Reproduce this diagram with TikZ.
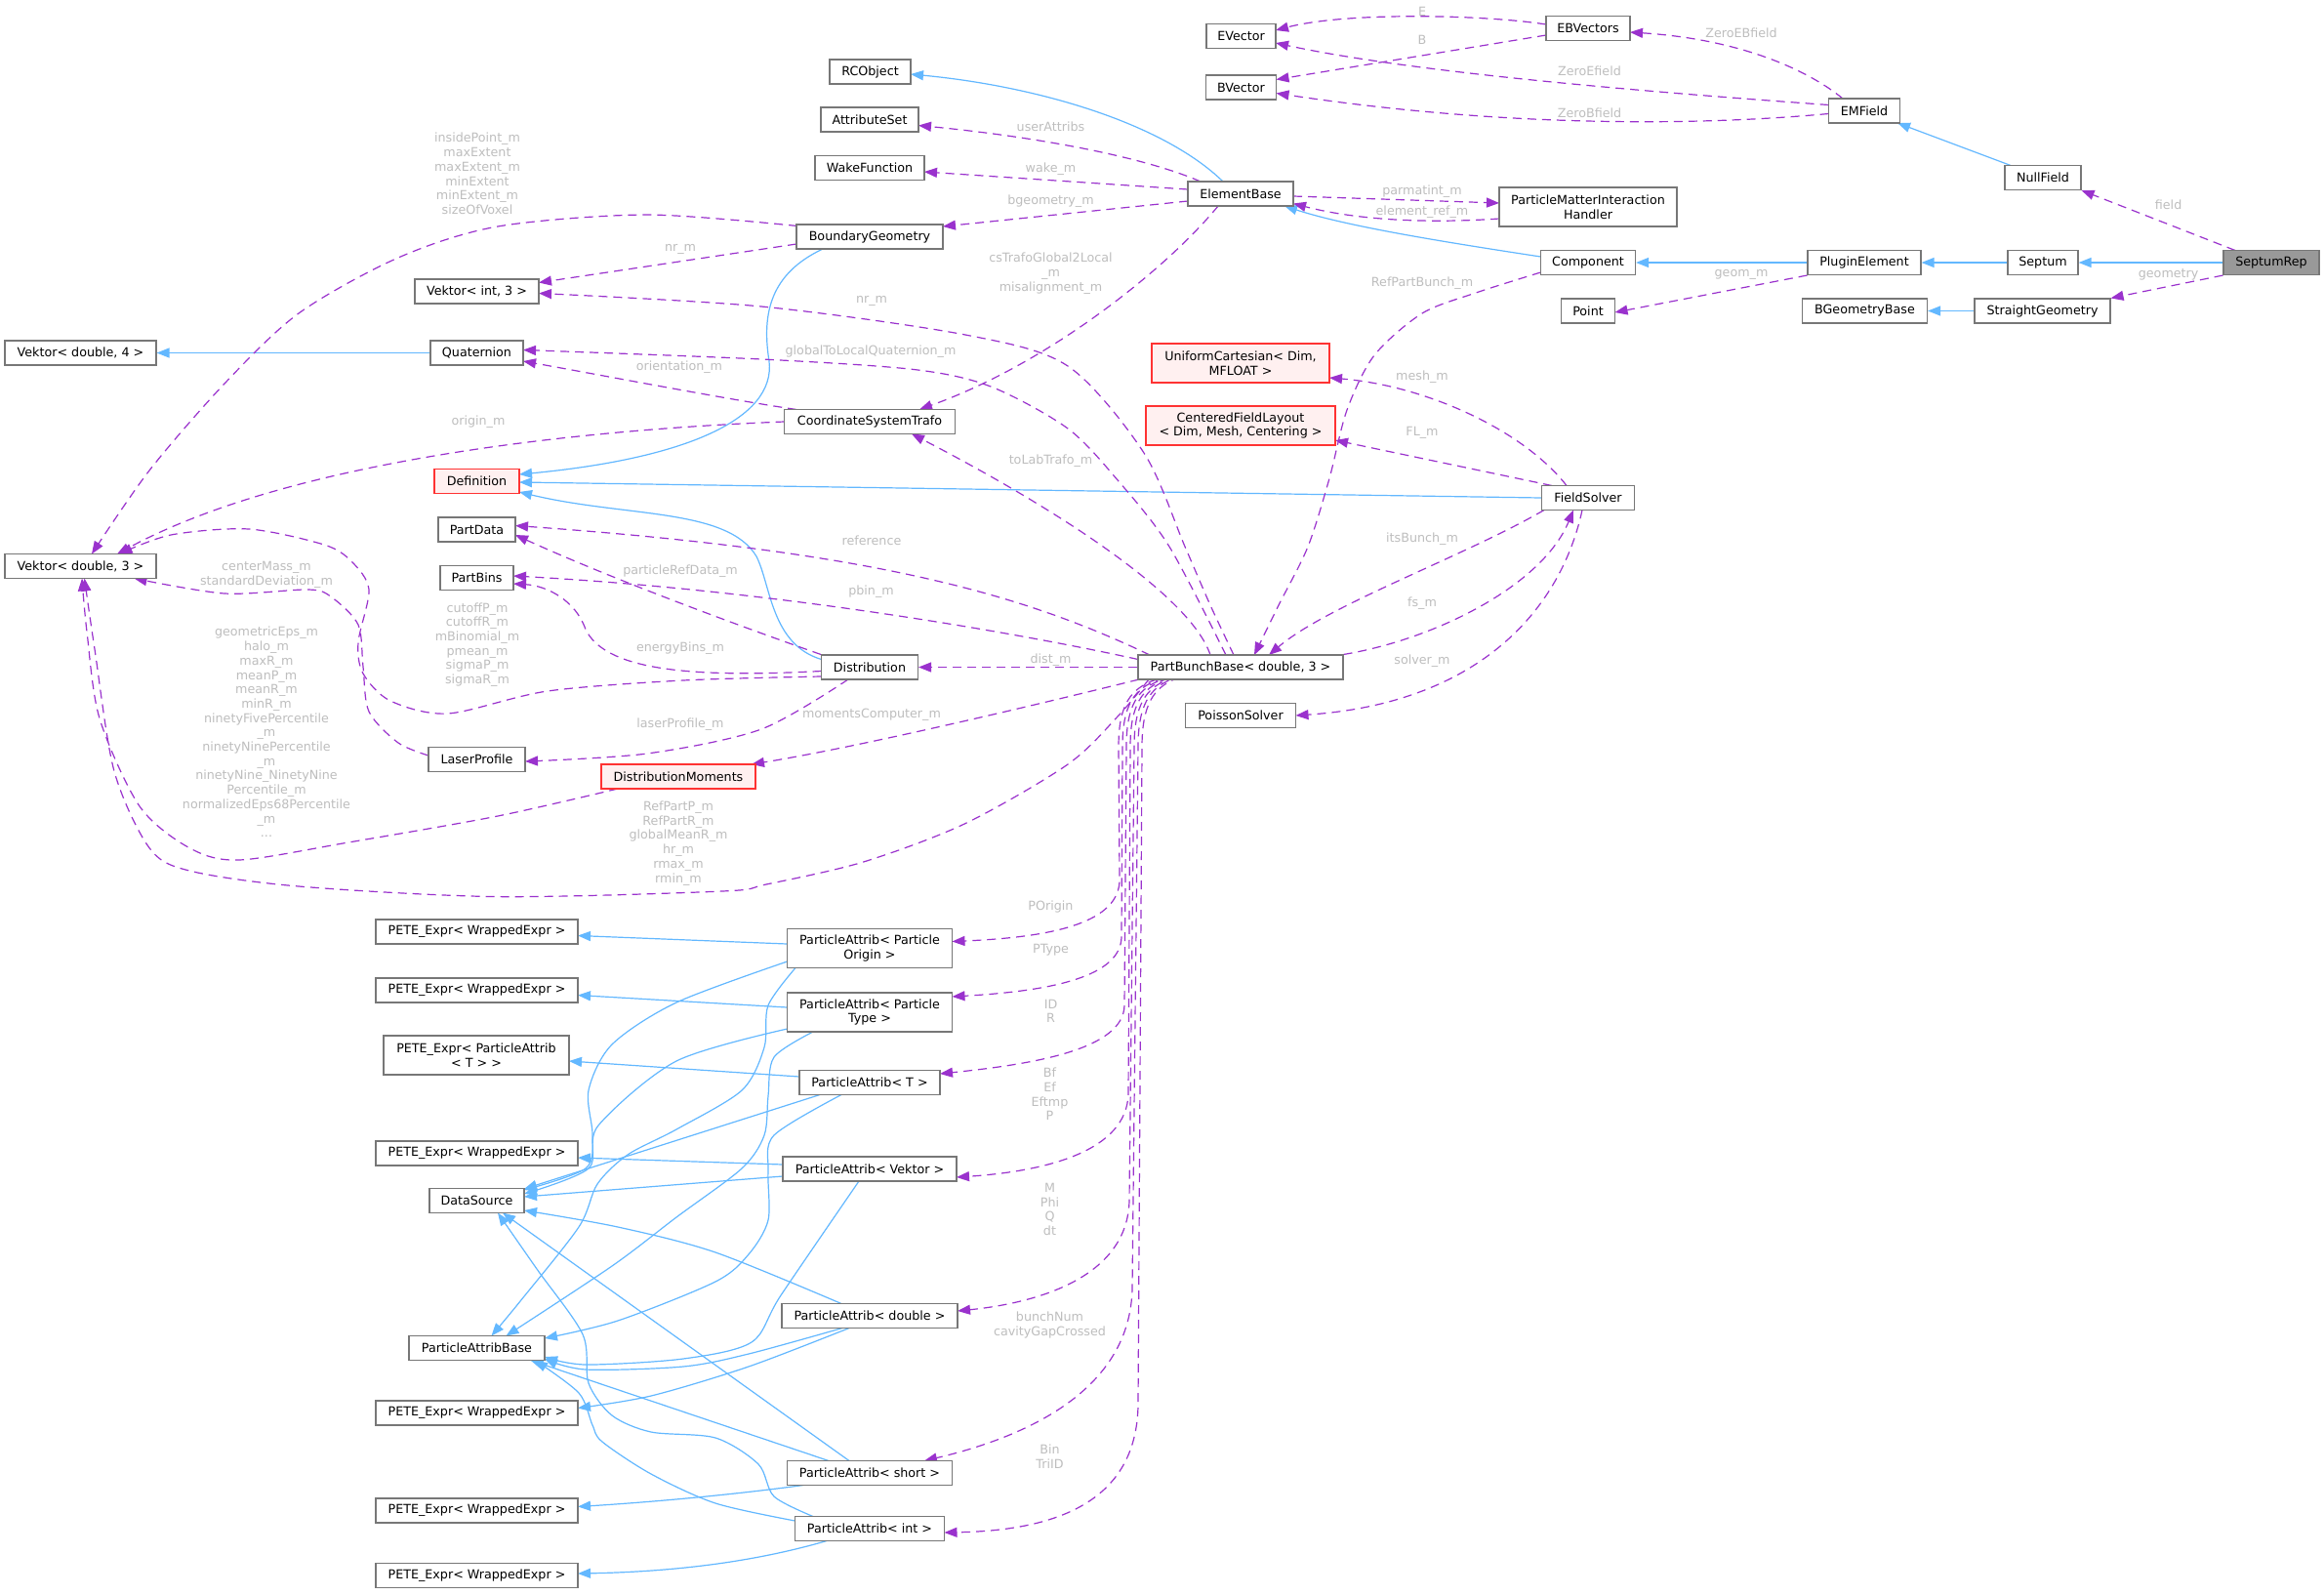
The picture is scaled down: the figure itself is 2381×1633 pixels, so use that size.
\documentclass[tikz,border=0pt]{standalone}
\usepackage{fontspec}
\setmainfont{DejaVu Sans}
\usetikzlibrary{arrows.meta,calc}
\pgfdeclarelayer{edges}
\pgfsetlayers{edges,main}
\definecolor{nodeborder}{HTML}{777777}
\definecolor{inhcol}{HTML}{63B8FF}
\definecolor{usecol}{HTML}{9A32CD}
\definecolor{lblcol}{HTML}{BEBEBE}
\definecolor{redfill}{HTML}{FFF0F0}
\definecolor{grayfill}{HTML}{999999}
\begin{document}
\begin{tikzpicture}[x=1pt,y=-1pt,
  box/.style={draw=nodeborder, line width=1.1pt, fill=white, inner sep=0pt, minimum height=25pt, font=\fontsize{12.7}{14.7}\selectfont, align=center},
  redbox/.style={box, draw=red!80, fill=redfill},
  lbl/.style={inner sep=0pt, text=lblcol, font=\fontsize{12.7}{14.7}\selectfont, align=center},
  inhedge/.style={draw=inhcol, line width=1.2pt, -{Triangle[length=13pt,width=10pt]}},
  usedge/.style={draw=usecol, line width=1.2pt, dash pattern=on 9pt off 6pt, -{Triangle[length=13pt,width=10pt]}},
]
\useasboundingbox (0,0) rectangle (2381,1633);
% ---------------- nodes
\node[box, minimum width=71pt] (evec) at (1271.5,37) {EVector};
\node[box, minimum width=72pt] (bvec) at (1271.5,89.5) {BVector};
\node[box, minimum width=86pt] (ebv) at (1627,29) {EBVectors};
\node[box, minimum width=73pt] (emf) at (1910,113.5) {EMField};
\node[box, minimum width=78pt] (nullf) at (2093,182) {NullField};
\node[box, minimum width=83pt] (rco) at (891.5,73.5) {RCObject};
\node[box, minimum width=100pt] (attr) at (891,122.5) {AttributeSet};
\node[box, minimum width=112pt] (wake) at (891,172) {WakeFunction};
\node[box, minimum width=108pt] (eb) at (1271,198.5) {ElementBase};
\node[box, minimum width=182pt, minimum height=40pt] (pmih) at (1627,212) {ParticleMatterInteraction\\Handler};
\node[box, minimum width=150pt] (bg) at (891,242.5) {BoundaryGeometry};
\node[box, minimum width=97pt] (comp) at (1627,269) {Component};
\node[box, minimum width=116pt] (plug) at (1910,269) {PluginElement};
\node[box, minimum width=72pt] (sept) at (2093,269) {Septum};
\node[box, fill=grayfill, minimum width=98pt] (srep) at (2327,269) {SeptumRep};
\node[box, minimum width=55pt] (point) at (1627,318.5) {Point};
\node[box, minimum width=128pt] (bgb) at (1910.5,318.5) {BGeometryBase};
\node[box, minimum width=139pt] (sg) at (2092.5,318.5) {StraightGeometry};
\node[box, minimum width=127pt] (vi3) at (488.5,298.5) {Vektor< int, 3 >};
\node[box, minimum width=155pt] (vd4) at (82.5,361.5) {Vektor< double, 4 >};
\node[box, minimum width=95pt] (quat) at (488.5,361.5) {Quaternion};
\node[redbox, minimum width=182pt, minimum height=40pt] (uc) at (1271,372) {UniformCartesian< Dim,\\MFLOAT >};
\node[box, minimum width=175pt] (cst) at (891,432) {CoordinateSystemTrafo};
\node[redbox, minimum width=194pt, minimum height=40pt] (cfl) at (1271,436) {CenteredFieldLayout\\< Dim, Mesh, Centering >};
\node[redbox, minimum width=87pt] (defn) at (488.5,493) {Definition};
\node[box, minimum width=95pt] (fs) at (1627,510) {FieldSolver};
\node[box, minimum width=79pt] (pdata) at (488.5,542.5) {PartData};
\node[box, minimum width=155pt] (vd3) at (82.5,580) {Vektor< double, 3 >};
\node[box, minimum width=75pt] (pbins) at (488.5,592) {PartBins};
\node[box, minimum width=99pt] (dist) at (891,683.5) {Distribution};
\node[box, minimum width=210pt] (pbb) at (1271,683.5) {PartBunchBase< double, 3 >};
\node[box, minimum width=113pt] (poi) at (1271,733) {PoissonSolver};
\node[box, minimum width=99pt] (lp) at (488.5,778) {LaserProfile};
\node[redbox, minimum width=158pt] (dm) at (695,795.5) {DistributionMoments};
\node[box, minimum width=207pt] (pete1) at (488.5,954.5) {PETE\_Expr< WrappedExpr >};
\node[box, minimum width=207pt] (pete2) at (488.5,1014.5) {PETE\_Expr< WrappedExpr >};
\node[box, minimum width=190pt, minimum height=40pt] (petepa) at (488,1081) {PETE\_Expr< ParticleAttrib\\< T > >};
\node[box, minimum width=207pt] (pete3) at (488.5,1181.5) {PETE\_Expr< WrappedExpr >};
\node[box, minimum width=97pt] (ds) at (488.5,1230) {DataSource};
\node[box, minimum width=139pt] (pab) at (488.5,1381) {ParticleAttribBase};
\node[box, minimum width=207pt] (pete4) at (488.5,1447.5) {PETE\_Expr< WrappedExpr >};
\node[box, minimum width=207pt] (pete5) at (488.5,1547.5) {PETE\_Expr< WrappedExpr >};
\node[box, minimum width=207pt] (pete6) at (488.5,1614) {PETE\_Expr< WrappedExpr >};
\node[box, minimum width=169pt, minimum height=40pt] (paorig) at (891,971.5) {ParticleAttrib< Particle\\Origin >};
\node[box, minimum width=169pt, minimum height=40pt] (patype) at (891,1037) {ParticleAttrib< Particle\\Type >};
\node[box, minimum width=144pt] (pat) at (891,1109) {ParticleAttrib< T >};
\node[box, minimum width=178pt] (pavek) at (891,1197.5) {ParticleAttrib< Vektor >};
\node[box, minimum width=180pt] (padbl) at (891,1348) {ParticleAttrib< double >};
\node[box, minimum width=169pt] (pashort) at (891,1509) {ParticleAttrib< short >};
\node[box, minimum width=153pt] (paint) at (891,1566) {ParticleAttrib< int >};
% ---------------- labels
\node[lbl] (lE) at (1457,12) {E};
\node[lbl] (lB) at (1457,41) {B};
\node[lbl] (lZEB) at (1784,34) {ZeroEBfield};
\node[lbl] (lZE) at (1628.5,72.5) {ZeroEfield};
\node[lbl] (lZB) at (1628.5,116) {ZeroBfield};
\node[lbl] (lfield) at (2221.6,209.6) {field};
\node[lbl] (lgeometry) at (2221.6,281) {geometry};
\node[lbl] (lgeomm) at (1784,281) {geom\_m};
\node[lbl] (luser) at (1076.5,130) {userAttribs};
\node[lbl] (lwake) at (1076.5,173) {wake\_m};
\node[lbl] (lbgeom) at (1076.5,206) {bgeometry\_m};
\node[lbl] (lparm) at (1457,196) {parmatint\_m};
\node[lbl] (lelref) at (1457,217) {element\_ref\_m};
\node[lbl] (lcstr) at (1076.5,280) {csTrafoGlobal2Local\\\_m\\misalignment\_m};
\node[lbl] (lrefpb) at (1457,290) {RefPartBunch\_m};
\node[lbl] (linside) at (489,178) {insidePoint\_m\\maxExtent\\maxExtent\_m\\minExtent\\minExtent\_m\\sizeOfVoxel};
\node[lbl] (lnr1) at (697,255) {nr\_m};
\node[lbl] (lnr2) at (893,308) {nr\_m};
\node[lbl] (lgtlq) at (892,360) {globalToLocalQuaternion\_m};
\node[lbl] (lorient) at (696,376) {orientation\_m};
\node[lbl] (lorigin) at (490,432) {origin\_m};
\node[lbl] (lmesh) at (1457,386) {mesh\_m};
\node[lbl] (lfl) at (1457,443.5) {FL\_m};
\node[lbl] (ltolab) at (1076.5,472.5) {toLabTrafo\_m};
\node[lbl] (lref) at (893,554) {reference};
\node[lbl] (lits) at (1457,552) {itsBunch\_m};
\node[lbl] (lprd) at (697,585) {particleRefData\_m};
\node[lbl] (lcm) at (273,589) {centerMass\_m\\standardDeviation\_m};
\node[lbl] (lpbin) at (892.5,606) {pbin\_m};
\node[lbl] (lfs) at (1457,618) {fs\_m};
\node[lbl] (lcut) at (489,660.5) {cutoffP\_m\\cutoffR\_m\\mBinomial\_m\\pmean\_m\\sigmaP\_m\\sigmaR\_m};
\node[lbl] (leb) at (697,664) {energyBins\_m};
\node[lbl] (ldist) at (1076.5,675.7) {dist\_m};
\node[lbl] (lsolver) at (1457,677) {solver\_m};
\node[lbl] (lmc) at (893,732) {momentsComputer\_m};
\node[lbl] (llp) at (697,742.5) {laserProfile\_m};
\node[lbl] (lgeps) at (273,750) {geometricEps\_m\\halo\_m\\maxR\_m\\meanP\_m\\meanR\_m\\minR\_m\\ninetyFivePercentile\\\_m\\ninetyNinePercentile\\\_m\\ninetyNine\_NinetyNine\\Percentile\_m\\normalizedEps68Percentile\\\_m\\...};
\node[lbl] (lrpp) at (695,864) {RefPartP\_m\\RefPartR\_m\\globalMeanR\_m\\hr\_m\\rmax\_m\\rmin\_m};
\node[lbl] (lpo) at (1076.5,928.6) {POrigin};
\node[lbl] (lpt) at (1076.5,973) {PType};
\node[lbl] (lidr) at (1076.5,1036) {ID\\R};
\node[lbl] (lbf) at (1075.5,1121) {Bf\\Ef\\Eftmp\\P};
\node[lbl] (lm) at (1075.5,1239) {M\\Phi\\Q\\dt};
\node[lbl] (lbn) at (1075.5,1357.6) {bunchNum\\cavityGapCrossed};
\node[lbl] (lbin) at (1075.5,1492.5) {Bin\\TriID};
% ---------------- edges
\begin{pgfonlayer}{edges}
\fill[white] (0,0) rectangle (2381,1633);
% inheritance
\draw[inhedge] ($(eb.center)+(-18,-12.5)$) .. controls (1190,125) and (1060,88) .. ($(rco.center)+(41.5,2.5)$);
\draw[inhedge] ($(comp.center)+(-48.5,-6)$) .. controls (1480,248) and (1380,232) .. ($(eb.center)+(45,12.5)$);
\draw[inhedge] ($(nullf.center)+(-33,-12.5)$) -- ($(emf.center)+(34,12.5)$);
\draw[inhedge] (plug.west) -- (comp.east);
\draw[inhedge] (sept.west) -- (plug.east);
\draw[inhedge] (srep.west) -- (sept.east);
\draw[inhedge] (sg.west) -- (bgb.east);
\draw[inhedge] (quat.west) -- (vd4.east);
\draw[inhedge] ($(bg.center)+(-48,12.5)$) .. controls (790,280) and (780,320) .. (788,370) .. controls (795,430) and (700,470) .. ($(defn.center)+(43.5,-7)$);
\draw[inhedge] (fs.west) -- ($(defn.center)+(43.5,1)$);
\draw[inhedge] ($(dist.center)+(-49.5,-8)$) .. controls (790,660) and (790,600) .. (775,570) .. controls (745,520) and (640,530) .. ($(defn.center)+(43.5,11)$);
% particle attrib cluster
\coordinate (c1s) at ($(paorig.center)+(-84.5,13.5)$);
\coordinate (c1e) at ($(ds.center)+(48.5,-11)$);
\coordinate (c2s) at ($(paorig.center)+(-76,20)$);
\coordinate (c2e) at ($(pab.center)+(15,-12.5)$);
\coordinate (c3s) at ($(patype.center)+(-84.5,17)$);
\coordinate (c3e) at ($(ds.center)+(48.5,-7)$);
\coordinate (c4s) at ($(patype.center)+(-58,20)$);
\coordinate (c4e) at ($(pab.center)+(30,-12.5)$);
\coordinate (c5s) at ($(pat.center)+(-29,12.5)$);
\coordinate (c5e) at ($(pab.center)+(69.5,-10)$);
\coordinate (c6s) at ($(pavek.center)+(-11,12.5)$);
\coordinate (c6e) at ($(pab.center)+(69.5,9)$);
\coordinate (c7s) at ($(padbl.center)+(-29,-12.5)$);
\coordinate (c7e) at ($(ds.center)+(48.5,10)$);
\coordinate (c8s) at ($(padbl.center)+(-28,12.5)$);
\coordinate (c8e) at ($(pab.center)+(69.5,11)$);
\coordinate (c9s) at ($(padbl.center)+(-21,12.5)$);
\coordinate (c9e) at ($(pete4.center)+(103.5,-5)$);
\coordinate (c10s) at ($(paint.center)+(-58,-12.5)$);
\coordinate (c10e) at ($(ds.center)+(21.5,12.5)$);
\coordinate (c11s) at ($(paint.center)+(-76.5,-8)$);
\coordinate (c11e) at ($(pab.center)+(59.5,12.5)$);
\draw[inhedge] ($(paorig.center)+(-84.5,-4.5)$) -- ($(pete1.center)+(103.5,4)$);
\draw[inhedge] plot[smooth] coordinates {(c1s) (693,1027) (627,1070) (603,1117) (607,1163) (600,1197) (c1e)};
\draw[inhedge] plot[smooth] coordinates {(c2s) (787,1030) (783,1073) (760,1117) (693,1157) (643,1183) (612,1213) (593,1257) (533,1333) (c2e)};
\draw[inhedge] ($(patype.center)+(-84.5,-5)$) -- ($(pete2.center)+(103.5,5)$);
\draw[inhedge] plot[smooth] coordinates {(c3s) (693,1087) (613,1153) (603,1197) (c3e)};
\draw[inhedge] plot[smooth] coordinates {(c4s) (793,1083) (787,1123) (783,1163) (760,1197) (693,1247) (627,1297) (c4e)};
\draw[inhedge] ($(pat.center)+(-72,-6)$) -- ($(petepa.center)+(95,6)$);
\draw[inhedge] ($(pat.center)+(-51,12.5)$) -- ($(ds.center)+(48.5,-12)$);
\draw[inhedge] plot[smooth] coordinates {(c5s) (793,1163) (787,1200) (787,1250) (767,1285) (733,1313) (633,1353) (c5e)};
\draw[inhedge] ($(pavek.center)+(-89,-4.5)$) -- ($(pete3.center)+(103.5,4.5)$);
\draw[inhedge] ($(pavek.center)+(-89,7.5)$) -- ($(ds.center)+(48.5,-4)$);
\draw[inhedge] plot[smooth] coordinates {(c6s) (800,1327) (770,1375) (700,1392) (600,1398) (c6e)};
\draw[inhedge] plot[smooth] coordinates {(c7s) (733,1283) (633,1257) (c7e)};
\draw[inhedge] plot[smooth] coordinates {(c8s) (767,1387) (700,1400) (600,1403) (c8e)};
\draw[inhedge] plot[smooth] coordinates {(c9s) (767,1400) (667,1430) (c9e)};
\draw[inhedge] ($(pashort.center)+(-21,-12.5)$) -- ($(ds.center)+(26.5,12.5)$);
\draw[inhedge] ($(pashort.center)+(-42,-12.5)$) -- ($(pab.center)+(55,12.5)$);
\draw[inhedge] ($(pashort.center)+(-68,12.5)$) .. controls (760,1530) and (680,1538) .. ($(pete5.center)+(103.5,-4)$);
\draw[inhedge] plot[smooth] coordinates {(c10s) (793,1533) (777,1500) (733,1473) (667,1467) (627,1450) (603,1417) (597,1367) (550,1300) (c10e)};
\draw[inhedge] plot[smooth] coordinates {(c11s) (733,1540) (667,1510) (617,1477) (607,1460) (593,1427) (c11e)};
\draw[inhedge] ($(paint.center)+(-44,12.5)$) .. controls (780,1598) and (700,1610) .. ($(pete6.center)+(103.5,-2)$);
% usage
\draw[usedge] ($(ebv.center)+(-43,-4)$) .. controls (1520,15) and (1380,12) .. ($(evec.center)+(35.5,-6)$);
\draw[usedge] ($(ebv.center)+(-43,7)$) -- ($(bvec.center)+(36,-8)$);
\draw[usedge] ($(emf.center)+(-22,-12.5)$) .. controls (1850,70) and (1780,40) .. ($(ebv.center)+(43,4)$);
\draw[usedge] ($(emf.center)+(-36.5,-6)$) .. controls (1700,95) and (1450,75) .. ($(evec.center)+(35.5,7)$);
\draw[usedge] ($(emf.center)+(-36.5,3)$) .. controls (1750,128) and (1550,132) .. ($(bvec.center)+(36,6)$);
\draw[usedge] ($(srep.center)+(-37,-12.5)$) -- (nullf.south east);
\draw[usedge] (srep.south west) -- (sg.north east);
\draw[usedge] (plug.south west) -- ($(point.center)+(27.5,1.5)$);
\draw[usedge] ($(eb.center)+(-41,-12.5)$) .. controls (1170,160) and (1060,140) .. ($(attr.center)+(50,6)$);
\draw[usedge] ($(eb.center)+(-54,-4.5)$) -- ($(wake.center)+(56,4)$);
\draw[usedge] ($(eb.center)+(-54,7.5)$) -- ($(bg.center)+(75,-10.5)$);
\draw[usedge] ($(eb.center)+(54,2.5)$) -- ($(pmih.center)+(-91,-4)$);
\draw[usedge] ($(pmih.center)+(-91,12)$) .. controls (1480,228) and (1400,228) .. ($(eb.center)+(54,10)$);
\draw[usedge] ($(eb.center)+(-23,12.5)$) .. controls (1200,270) and (1080,370) .. ($(cst.center)+(51,-12.5)$);
\coordinate (u1s) at ($(comp.center)+(-48.5,10)$);
\coordinate (u1e) at ($(pbb.center)+(14,-12.5)$);
\draw[usedge] plot[smooth] coordinates {(u1s) (1512,300) (1457,321) (1408,364) (1380,420) (1362,490) (1340,560) (1310,620) (u1e)};
\coordinate (u2s) at ($(bg.center)+(-74,-11)$);
\coordinate (u2e) at ($(vd3.center)+(11.5,-12.5)$);
\draw[usedge] plot[smooth] coordinates {(u2s) (663,220) (510,232) (408,264) (306,321) (230,393) (153,482) (u2e)};
\draw[usedge] ($(bg.center)+(-75,7.5)$) -- ($(vi3.center)+(63.5,-9)$);
\coordinate (u3s) at ($(pbb.center)+(-7,-12.5)$);
\coordinate (u3e) at ($(vi3.center)+(63.5,2)$);
\draw[usedge] plot[smooth] coordinates {(u3s) (1240,620) (1214,560) (1172,464) (1094,375) (989,343) (780,314) (u3e)};
\coordinate (u4s) at ($(pbb.center)+(-15,-12.5)$);
\coordinate (u4e) at ($(quat.center)+(47.5,-3)$);
\draw[usedge] plot[smooth] coordinates {(u4s) (1198,560) (1146,493) (1094,439) (1015,396) (937,378.6) (780,368) (u4e)};
\draw[usedge] ($(cst.center)+(-75,-12.5)$) .. controls (750,410) and (620,385) .. ($(quat.center)+(47.5,8.5)$);
\draw[usedge] ($(cst.center)+(-87.5,0)$) .. controls (600,440) and (300,470) .. ($(vd3.center)+(37.5,-12.5)$);
\draw[usedge] ($(pbb.center)+(-31,-12.5)$) .. controls (1220,610) and (1080,520) .. ($(cst.center)+(43,12.5)$);
\draw[usedge] ($(fs.center)+(-22,-12.5)$) .. controls (1560,440) and (1460,395) .. ($(uc.center)+(91,15)$);
\draw[usedge] ($(fs.center)+(-37,-12.5)$) -- ($(cfl.center)+(97,15)$);
\draw[usedge] ($(fs.center)+(-45,12.5)$) .. controls (1500,570) and (1360,620) .. ($(pbb.center)+(29,-12.5)$);
\draw[usedge] (pbb.north east) .. controls (1470,655) and (1580,600) .. ($(fs.center)+(-15,12.5)$);
\draw[usedge] ($(fs.center)+(-6,12.5)$) .. controls (1600,620) and (1520,720) .. ($(poi.center)+(56.5,0)$);
\draw[usedge] (dist.north west) .. controls (740,635) and (620,590) .. ($(pdata.center)+(39.5,5.5)$);
\draw[usedge] ($(pbb.center)+(-93,-12.5)$) .. controls (1050,610) and (900,565) .. ($(pdata.center)+(39.5,-4)$);
\draw[usedge] ($(pbb.center)+(-105,-8)$) .. controls (1050,650) and (800,605) .. ($(pbins.center)+(37.5,-2)$);
\draw[usedge] ($(dist.center)+(-49.5,4)$) .. controls (700,695) and (620,685) .. (600,645) .. controls (590,615) and (560,600) .. ($(pbins.center)+(37.5,6)$);
\coordinate (u5s) at ($(dist.center)+(-49.5,9.5)$);
\coordinate (u5e) at ($(vd3.center)+(40,-12.5)$);
\draw[usedge] plot[smooth] coordinates {(u5s) (700,697) (561,708) (459,731) (400,718) (372,690) (367,658) (378,604) (360,575) (332,558) (255,542) (175,548) (u5e)};
\coordinate (u6s) at ($(lp.center)+(-49.5,-4)$);
\coordinate (u6e) at ($(vd3.center)+(55,12.5)$);
\draw[usedge] plot[smooth] coordinates {(u6s) (408,761) (378,729) (372,683) (367,640) (340,612) (316,604) (230,608) (u6e)};
\coordinate (u7s) at ($(dist.center)+(-22,12.5)$);
\coordinate (u7e) at ($(lp.center)+(49.5,2)$);
\draw[usedge] plot[smooth] coordinates {(u7s) (780,747) (663,772) (u7e)};
\draw[usedge] ($(pbb.center)+(-104,12.5)$) .. controls (1050,725) and (880,765) .. ($(dm.center)+(75,-12.5)$);
\coordinate (u8s) at ($(dm.center)+(-62,12.5)$);
\coordinate (u8e) at ($(vd3.center)+(1.5,12.5)$);
\draw[usedge] plot[smooth] coordinates {(u8s) (510,836) (357,863) (245,881) (194,868.6) (143,826) (102,736) (89,647) (u8e)};
\coordinate (u9s) at ($(pbb.center)+(-94,12.5)$);
\coordinate (u9e) at ($(vd3.center)+(4,12.5)$);
\draw[usedge] plot[smooth] coordinates {(u9s) (1146,733) (1094,783) (989,843.6) (884.6,883) (785,906) (740,913) (510,918.6) (306,908) (194,892) (153,868.6) (117,790) (97,665) (u9e)};
\draw[usedge] (pbb.west) -- (dist.east);
% bundle to particle attribs
\draw[usedge, dash phase=0pt] ($(pbb.center)+(-86,12.5)$) .. controls (1158,705) and (1146,722) .. (1146,765) -- (1147,900) .. controls (1148,945) and (1080,960) .. ($(paorig.center)+(84.5,-7)$);
\draw[usedge, dash phase=5pt] ($(pbb.center)+(-83,12.5)$) .. controls (1162,705) and (1150,722) .. (1150,765) -- (1149,960) .. controls (1148,1000) and (1080,1015) .. ($(patype.center)+(84.5,-16)$);
\draw[usedge, dash phase=10pt] ($(pbb.center)+(-80,12.5)$) .. controls (1166,705) and (1154,722) .. (1154,765) -- (1152,1030) .. controls (1151,1075) and (1060,1090) .. ($(pat.center)+(72,-9)$);
\draw[usedge, dash phase=3pt] ($(pbb.center)+(-77,12.5)$) .. controls (1170,705) and (1158,722) .. (1158,765) -- (1156,1120) .. controls (1155,1180) and (1070,1200) .. ($(pavek.center)+(89,8.5)$);
\draw[usedge, dash phase=8pt] ($(pbb.center)+(-74,12.5)$) .. controls (1174,705) and (1162,722) .. (1162,765) -- (1157,1230) .. controls (1155,1310) and (1060,1335) .. ($(padbl.center)+(90,-5)$);
\draw[usedge, dash phase=12pt] ($(pbb.center)+(-71,12.5)$) .. controls (1178,705) and (1166,722) .. (1166,765) -- (1160,1320) .. controls (1158,1420) and (1060,1470) .. ($(pashort.center)+(56,-12.5)$);
\draw[usedge, dash phase=6pt] ($(pbb.center)+(-68,12.5)$) .. controls (1182,705) and (1170,722) .. (1170,765) -- (1166,1440) .. controls (1164,1540) and (1080,1568) .. ($(paint.center)+(76.5,4)$);
\end{pgfonlayer}
\end{tikzpicture}
\end{document}
